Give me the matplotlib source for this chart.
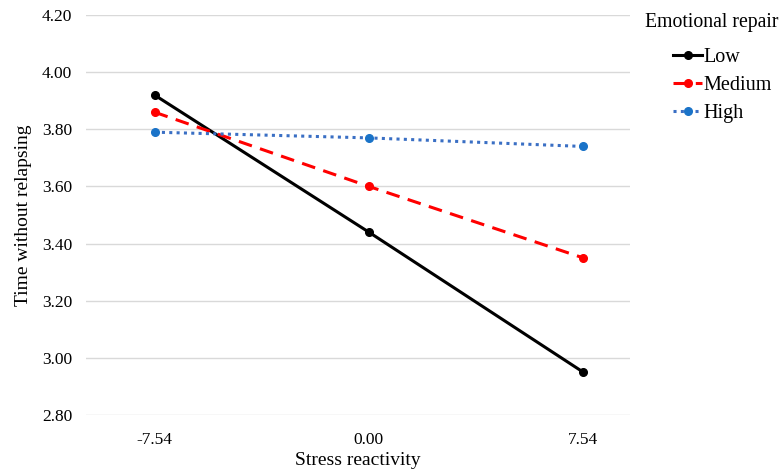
import matplotlib
matplotlib.use('Agg')
import matplotlib.pyplot as plt

plt.rcParams['font.family'] = ['Liberation Serif', 'DejaVu Serif']

categories = ['-7.54', '0.00', '7.54']
low = [3.92, 3.44, 2.95]
medium = [3.86, 3.60, 3.35]
high = [3.79, 3.77, 3.74]
yticks = [2.80, 3.00, 3.20, 3.40, 3.60, 3.80, 4.00, 4.20]

fig = plt.figure(figsize=(7.82, 4.71), dpi=100)
ax = fig.add_axes([0.11, 0.119, 0.696, 0.849])

x = range(len(categories))
ax.plot(x, low, color='black', lw=2.2, marker='o', ms=5.5, label='Low')
ax.plot(x, medium, color='#ff0000', lw=2.2, ls=(0, (4.5, 2.8)), marker='o', ms=5.5, label='Medium')
ax.plot(x, high, color='#3a6fc4', lw=2.2, ls=(0, (1, 1.4)), marker='o', ms=5.5,
        markerfacecolor='#1a73c8', markeredgecolor='#1a73c8', label='High')

ax.set_xlim(-0.32, 2.22)
ax.set_ylim(2.80, 4.20)
ax.set_xticks(list(x))
ax.set_xticklabels(categories)
ax.set_yticks(yticks)
ax.set_yticklabels([f'{v:.2f}' for v in yticks])
ax.tick_params(length=0, labelsize=12.5)
ax.tick_params(axis='y', pad=10)
ax.tick_params(axis='x', pad=12)
ax.grid(axis='y', color='#d9d9d9', lw=1)
ax.set_axisbelow(True)
for s in ax.spines.values():
    s.set_visible(False)

ax.set_xlabel('Stress reactivity', fontsize=14, labelpad=3)
ax.set_ylabel('Time without relapsing', fontsize=14, labelpad=7)

fig.text(645 / 782, 1 - 22 / 471, 'Emotional repair', fontsize=14.2, ha='left', va='center')
leg = fig.legend(*ax.get_legend_handles_labels(), loc='upper left',
                 bbox_to_anchor=(673 / 782, 1 - 48 / 471), frameon=False,
                 fontsize=14.5, handlelength=1.45, handletextpad=0.05,
                 labelspacing=0.45, borderpad=0, borderaxespad=0)

fig.savefig('out.png', dpi=100)
